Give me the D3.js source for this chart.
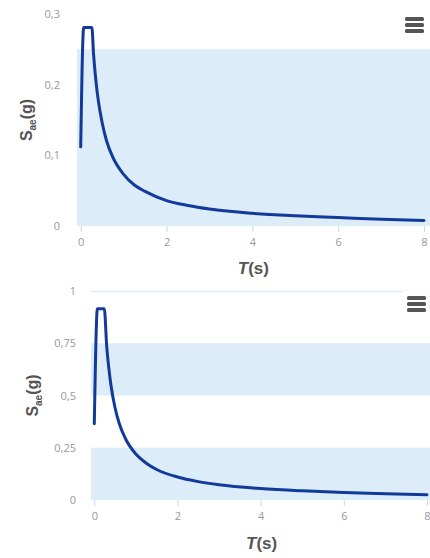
<!DOCTYPE html>
<html><head><meta charset="utf-8">
<script src="https://cdn.jsdelivr.net/npm/d3@7"></script>
<style>
html,body{margin:0;padding:0;background:#fff;}
svg{display:block;}
</style></head>
<body>
<svg id="c" width="430" height="558"></svg>
<script>
// ---- data ----
const periods1 = [0, 0.07, 0.26, 0.3, 0.35, 0.4, 0.5, 0.6, 0.75, 1, 1.25, 1.5, 2, 2.5, 3, 4, 5, 6, 7, 8];
const spectrum1 = [0.112, 0.281, 0.281, 0.243, 0.208, 0.182, 0.146, 0.121, 0.097, 0.073, 0.058, 0.049, 0.036, 0.029, 0.024, 0.018, 0.0145, 0.012, 0.0095, 0.0078];
const periods2 = [0, 0.075, 0.24, 0.3, 0.35, 0.4, 0.5, 0.6, 0.75, 1, 1.25, 1.5, 2, 2.5, 3, 4, 5, 6, 7, 8];
const spectrum2 = [0.365, 0.915, 0.915, 0.73, 0.63, 0.55, 0.44, 0.366, 0.293, 0.22, 0.176, 0.146, 0.11, 0.088, 0.073, 0.055, 0.044, 0.036, 0.03, 0.025];
const xTicks = [0, 2, 4, 6, 8];
const yTicks1 = [0, 0.1, 0.2, 0.3];
const yTickLabels1 = ["0", "0,1", "0,2", "0,3"];
const yTicks2 = [0, 0.25, 0.5, 0.75, 1];
const yTickLabels2 = ["0", "0,25", "0,5", "0,75", "1"];
const bands1 = [[0, 0.25]];
const bands2 = [[0, 0.25], [0.5, 0.75]];
const topLines2 = [1];

const svg = d3.select("#c");
const lineColor = "#123a9b";
const bandColor = "#dcecf9";
const axisColor = "#ccd6eb";
const tickText = "#999";
const titleColor = "#555";

function drawChart(cfg) {
  const g = svg.append("g");
  const x = d3.scaleLinear().domain([0, 8]).range([cfg.x0, cfg.x1]);
  const y = d3.scaleLinear().domain(cfg.yDomain).range([cfg.yb, cfg.yt]);
  g.selectAll("rect.band").data(cfg.bands).enter().append("rect")
    .attr("class", "band")
    .attr("x", cfg.plotLeft).attr("width", 430 - cfg.plotLeft)
    .attr("y", d => y(d[1])).attr("height", d => y(d[0]) - y(d[1]))
    .attr("fill", bandColor);
  g.selectAll("line.gl").data(cfg.lines || []).enter().append("line")
    .attr("x1", cfg.plotLeft).attr("x2", 430)
    .attr("y1", d => y(d) + 0.5).attr("y2", d => y(d) + 0.5)
    .attr("stroke", bandColor).attr("stroke-width", 1.5);
  const xAxis = d3.axisBottom(x).tickValues(xTicks).tickSize(6).tickPadding(6)
    .tickFormat(d3.format("d"));
  const xa = g.append("g").attr("transform", `translate(0,${cfg.yb})`).call(xAxis);
  xa.select(".domain").remove();
  xa.selectAll(".tick line").attr("stroke", axisColor);
  xa.selectAll(".tick text").attr("fill", tickText).style("font-family", "Open Sans, DejaVu Sans, sans-serif").style("font-size", "11px");
  const yAxis = d3.axisLeft(y).tickValues(cfg.yTicks).tickSize(0).tickPadding(cfg.yPad)
    .tickFormat((d, i) => cfg.yLabels[i]);
  const ya = g.append("g").attr("transform", `translate(${cfg.plotLeft},0)`).call(yAxis);
  ya.select(".domain").remove();
  ya.selectAll(".tick text").attr("fill", tickText).style("font-family", "Open Sans, DejaVu Sans, sans-serif").style("font-size", "11px");
  const data = cfg.periods.map((p, i) => [p, cfg.values[i]]);
  g.append("path").datum(data)
    .attr("d", d3.line().x(d => x(d[0])).y(d => y(d[1])).curve(d3.curveMonotoneX))
    .attr("fill", "none").attr("stroke", lineColor).attr("stroke-width", 3)
    .attr("stroke-linejoin", "round").attr("stroke-linecap", "round");
  const xt = g.append("text").attr("x", (cfg.x0 + cfg.x1) / 2 + 1).attr("y", cfg.xTitleY)
    .attr("text-anchor", "middle").attr("fill", titleColor)
    .style("font-family", "Liberation Sans, Arial, sans-serif").style("font-size", "17px").style("font-weight", "bold");
  xt.append("tspan").style("font-style", "italic").text("T");
  xt.append("tspan").text("(s)");
  const yt = g.append("text")
    .attr("transform", `translate(${cfg.yTitleX},${(cfg.yt + cfg.yb) / 2}) rotate(-90)`)
    .attr("text-anchor", "middle").attr("fill", titleColor)
    .style("font-family", "Liberation Sans, Arial, sans-serif").style("font-size", "16px").style("font-weight", "bold");
  yt.append("tspan").text("S");
  yt.append("tspan").attr("dy", 4).style("font-size", "10px").text("ae");
  yt.append("tspan").attr("dy", -4).text("(g)");
  const b = g.append("g").attr("transform", `translate(${cfg.menuX},${cfg.menuY})`);
  b.append("rect").attr("x", -4).attr("y", -5).attr("width", 28).attr("height", 27).attr("fill", "#fff");
  [0, 6, 12].forEach(o => b.append("rect").attr("x", 0).attr("y", o).attr("width", 19).attr("height", 4)
    .attr("rx", 1.5).attr("fill", "#555"));
}

drawChart({
  x0: 80.7, x1: 424, yb: 226, yt: 14, yDomain: [0, 0.3], plotLeft: 77,
  bands: bands1, lines: [], yTicks: yTicks1, yLabels: yTickLabels1, yPad: 17,
  periods: periods1, values: spectrum1, xTitleY: 274, yTitleX: 32, menuX: 405, menuY: 17
});
drawChart({
  x0: 94.3, x1: 427, yb: 500, yt: 291, yDomain: [0, 1], plotLeft: 91,
  bands: bands2, lines: topLines2, yTicks: yTicks2, yLabels: yTickLabels2, yPad: 15,
  periods: periods2, values: spectrum2, xTitleY: 549, yTitleX: 38, menuX: 407, menuY: 296
});
</script>
</body></html>
